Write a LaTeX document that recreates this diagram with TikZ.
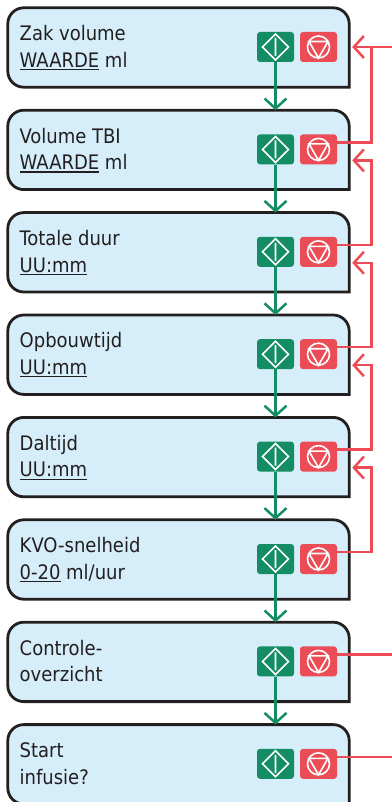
\documentclass[tikz,border=0pt]{standalone}
\usepackage{fontspec}
\setmainfont{DejaVu Sans Condensed}
\usetikzlibrary{arrows.meta,calc}

\definecolor{screenblue}{RGB}{214,238,250}
\definecolor{gogreen}{RGB}{20,140,100}
\definecolor{stopred}{RGB}{236,76,86}
\definecolor{inkgray}{RGB}{35,31,32}

% underlined value field
\newcommand{\valueline}[1]{\setbox0\hbox{#1}\rlap{\rule[-3pt]{\wd0}{1.2pt}}\box0}

% screen outline: three round corners, bottom right square
\newcommand{\screenoutline}[1]{%
  \draw[screenline] (#1.south east) -- ([xshift=16pt]#1.south west)
    arc[start angle=270, end angle=180, radius=16pt] -- ([yshift=-16pt]#1.north west)
    arc[start angle=180, end angle=90, radius=16pt] -- ([xshift=-16pt]#1.north east)
    arc[start angle=90, end angle=0, radius=16pt] -- cycle;}

\tikzset{
  screen/.style={minimum width=341pt, minimum height=79pt, inner sep=0pt},
  screenline/.style={draw=inkgray, fill=screenblue, line width=2.8pt},
  screentext/.style={anchor=base west, align=left, inner sep=0pt, text=inkgray,
    font=\fontsize{20}{26.5}\selectfont},
  gobtn/.style={rectangle, rounded corners=3pt, fill=gogreen, minimum width=37pt,
    minimum height=30pt, inner sep=0pt,
    path picture={\draw[white, line width=1.6pt, sharp corners]
      ($(path picture bounding box.center)+(13,0)$) -- ++(-13,13) -- ++(-13,-13) -- ++(13,-13) -- cycle
      ($(path picture bounding box.center)+(0,9)$) -- ++(0,-18);}},
  stopbtn/.style={rectangle, rounded corners=3pt, fill=stopred, minimum width=37pt,
    minimum height=30pt, inner sep=0pt,
    path picture={\draw[white, line width=1.6pt, sharp corners]
      (path picture bounding box.center) circle[radius=11pt]
      ($(path picture bounding box.center)+(0,-11)$) -- ++(9.53,16.5) -- ++(-19.05,0) -- cycle;}},
  goarrow/.style={draw=gogreen, line width=2.5pt, -{Straight Barb[length=10pt,width=22pt]}},
  backline/.style={draw=stopred, line width=2.5pt},
  backarrow/.style={backline, -{Straight Barb[length=10pt,width=22pt]}},
}

\begin{document}
\begin{tikzpicture}[x=1pt,y=1pt]
  \useasboundingbox (0,0) rectangle (391,-802);
  \coordinate (rail) at (371.5,0);
  \coordinate (edge) at (395,0);

  \foreach \i/\la/\lb in {1/Zak volume/{\valueline{WAARDE}\ ml},
      2/Volume TBI/{\valueline{WAARDE}\ ml}, 3/Totale duur/{\valueline{UU:mm}},
      4/Opbouwtijd/{\valueline{UU:mm}}, 5/Daltijd/{\valueline{UU:mm}},
      6/KVO-snelheid/{\valueline{0-20}\ ml/uur}, 7/Controle-/overzicht, 8/Start/infusie?} {
    \pgfmathsetmacro\boxtop{7+(\i-1)*102.4}
    \node[screen] (b\i) at (178.5,{-\boxtop-40.5}) {};
    \screenoutline{b\i}
    \node[screentext] (t\i) at (19.5,{-\boxtop-60.2}) {\la\\\lb};
    \node[gobtn] (g\i) at (275.5,{-\boxtop-40}) {};
    \node[stopbtn] (r\i) at (318.5,{-\boxtop-40}) {};
    \coordinate (o\i) at ($(r\i.east)+(0,7)$);
  }

  % next screen
  \foreach \i [evaluate=\i as \j using int(\i+1)] in {1,...,7}
    \draw[goarrow] (g\i.south) -- (g\i.south |- b\j.north);

  % back to previous screen
  \coordinate (in1) at ($(b1.east |- r1.east)+(3,0)$);
  \foreach \j in {2,...,5}
    \coordinate (in\j) at ($(b\j.east |- r\j.east)+(3,-11)$);
  \draw[backarrow] (in1 -| edge) -- (in1);
  \draw[backline] (o2) -| (in1 -| rail);
  \foreach \i [evaluate=\i as \j using int(\i-1)] in {3,...,6}
    \draw[backarrow] (o\i) -| (in\j -| rail) -- (in\j);
  \draw[backline] (o7) -- (o7 -| edge);
  \draw[backline] (o8) -- (o8 -| edge);
\end{tikzpicture}
\end{document}
